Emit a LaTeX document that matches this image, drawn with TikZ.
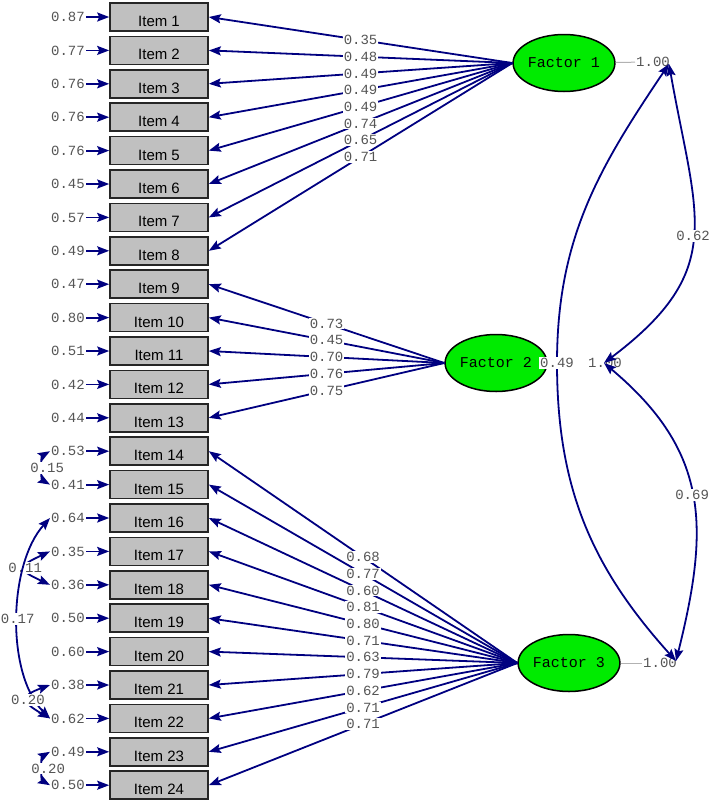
\documentclass[tikz,border=0pt]{standalone}
\usepackage{fontspec}
\setmainfont{Liberation Sans}
\newfontfamily\numfont{Liberation Mono}
\usetikzlibrary{shapes.geometric, arrows.meta}
\definecolor{lisblue}{RGB}{0,0,128}
\definecolor{lisgreen}{RGB}{0,235,0}
\definecolor{boxgray}{RGB}{192,192,192}
\definecolor{numgray}{RGB}{85,85,85}
\tikzstyle{item} = [rectangle, minimum width=98pt, minimum height=28pt, inner sep=0, draw=black!85, line width=1.6pt, fill=boxgray, font=\fontsize{15}{15}\selectfont]
\tikzstyle{factor} = [ellipse, minimum width=98pt, minimum height=57pt, inner sep=0, draw=black, line width=1.5pt, fill=lisgreen, font=\numfont\fontsize{15}{15}\selectfont]
\tikzstyle{num} = [inner sep=1pt, text=numgray, font=\numfont\fontsize{14}{14}\selectfont]
\tikzstyle{coef} = [num, fill=white]
\tikzstyle{arrow} = [lisblue, line width=1.8pt, ->, >={Stealth[length=12pt,width=9pt,inset=2pt]}]
\tikzstyle{cov} = [arrow, <->]
\tikzstyle{varline} = [gray!60, line width=1pt]

\begin{document}
\begin{tikzpicture}[x=1pt, y=1pt]
\useasboundingbox (0,0) rectangle (711,-801);

% items with their error variances
\foreach \e [count=\i] in {0.87,0.77,0.76,0.76,0.76,0.45,0.57,0.49,0.47,0.80,0.51,0.42,0.44,0.53,0.41,0.64,0.35,0.36,0.50,0.60,0.38,0.62,0.49,0.50}{
	\node[item] (item\i) at (159,{-17-(\i-1)*33.4}) {\raisebox{-4pt}[11pt][0pt]{Item \i}};
	\node[num, anchor=east] (e\i) at (86,{-17-(\i-1)*33.4}) {\e};
	\draw[arrow] (e\i) -- (item\i);
	}

\node[factor] (f1) at (564,-63) {Factor 1};
\node[factor] (f2) at (496,-363) {Factor 2};
\node[factor] (f3) at (569,-663) {Factor 3};

% loadings
\foreach \w [count=\i] in {0.35,0.48,0.49,0.49,0.49,0.74,0.65,0.71}
	\draw[arrow] (f1.west) -- node[coef]{\w} (item\i.east);
\foreach \w [count=\i from 9] in {0.73,0.45,0.70,0.76,0.75}
	\draw[arrow] (f2.west) -- node[coef]{\w} (item\i.east);
\foreach \w [count=\i from 14] in {0.68,0.77,0.60,0.81,0.80,0.71,0.63,0.79,0.62,0.71,0.71}
	\draw[arrow] (f3.west) -- node[coef]{\w} (item\i.east);

% factor variances and correlations
\node[num] (v1) at (653,-62) {1.00};
\node[num] (v2) at (605,-363) {1.00};
\node[num] (v3) at (660,-663) {1.00};
\draw[varline] (f1) -- (v1);
\draw[varline] (f3) -- (v3);
\coordinate (t1) at (669,-64);
\coordinate (t2) at (604,-363);
\coordinate (t3) at (676,-661);
\coordinate (m13) at (557,-363);
\draw[cov] (t1) to[out=-80, in=37, looseness=1.3] node[coef]{0.62} (t2);
\draw[cov] (t2) to[out=-40, in=76, looseness=1.15] node[coef]{0.69} (t3);
\draw[cov] (t1) to[out=236, in=90] (m13) to[out=270, in=132] (t3);
\node[coef] (r13) at (m13) {0.49};

% error covariances
\draw[cov] (e14.west) to[out=210, in=150, looseness=0.8] node[coef, xshift=4pt]{0.15} (e15.west);
\draw[cov] (e17.west) to[out=205, in=155, looseness=2.8] node[coef]{0.11} (e18.west);
\draw[cov] (e16.west) to[out=228, in=135, looseness=0.8] node[coef]{0.17} (e22.west);
\draw[cov] (e21.west) to[out=200, in=150, looseness=2.5] node[coef]{0.20} (e22.west);
\draw[cov] (e23.west) to[out=210, in=150, looseness=0.8] node[coef, xshift=5pt]{0.20} (e24.west);
\end{tikzpicture}
\end{document}
